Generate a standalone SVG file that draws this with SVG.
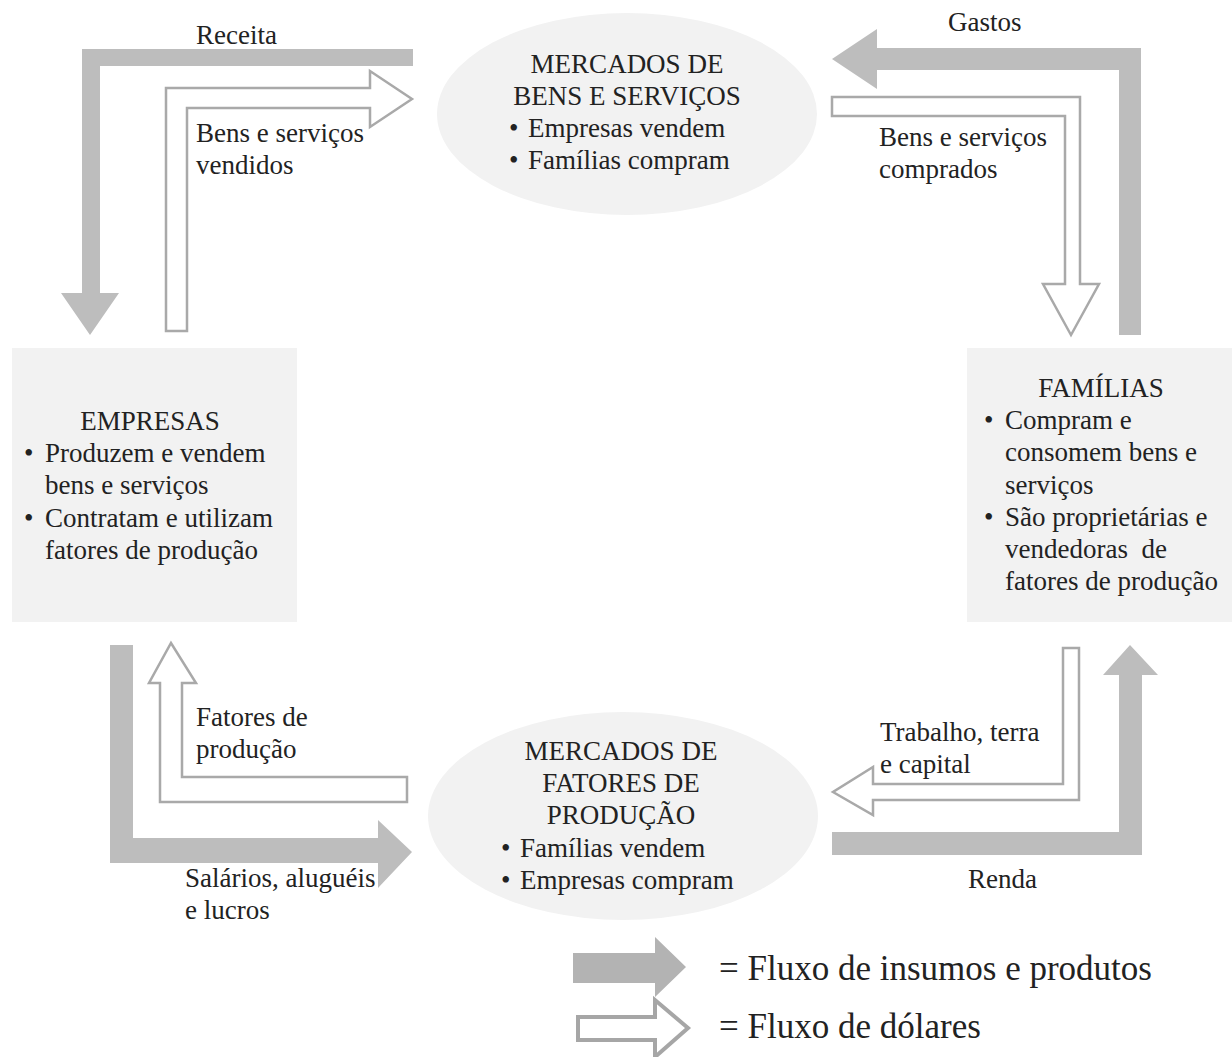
<svg xmlns="http://www.w3.org/2000/svg" width="1232" height="1057" viewBox="0 0 1232 1057">
<style>
text{font-family:"Liberation Serif","Times New Roman",serif;font-size:27px;fill:#222}
.c{text-anchor:middle}
.node{fill:#f2f2f2}
.solid{fill:#bdbdbd;stroke:none}
.hollow{fill:#fff;stroke:#a9a9a9;stroke-width:2.5;stroke-linejoin:miter}
.leg{font-size:35px}
</style>
<rect width="1232" height="1057" fill="#fff"/>

<g id="connectors">
  <g id="receita">
    <polygon class="solid" points="413,49 413,66 100,66 100,293 119,293 90,335 61,293 82,293 82,49"/>
    <text x="196" y="44">Receita</text>
  </g>
  <g id="bens-vendidos">
    <polygon class="hollow" points="166,331 166,88 370,88 370,71 412,99 370,127 370,108 187,108 187,331"/>
    <text x="196" y="142">Bens e serviços</text>
    <text x="196" y="174">vendidos</text>
  </g>
  <g id="gastos">
    <polygon class="solid" points="832,59 877,29 877,48 1141,48 1141,335 1119,335 1119,70 877,70 877,89"/>
    <text x="948" y="31">Gastos</text>
  </g>
  <g id="bens-comprados">
    <polygon class="hollow" points="832,97 1080,97 1080,284 1099,284 1071,335 1043,284 1065,284 1065,116 832,116"/>
    <text x="879" y="146">Bens e serviços</text>
    <text x="879" y="178">comprados</text>
  </g>
  <g id="fatores">
    <polygon class="hollow" points="160,802 160,683 149,683 171,643 196,683 182,683 182,777 407,777 407,802"/>
    <text x="196" y="726">Fatores de</text>
    <text x="196" y="758">produção</text>
  </g>
  <g id="salarios">
    <polygon class="solid" points="110,645 133,645 133,838 378,838 378,820 412,852 378,888 378,863 110,863"/>
    <text x="185" y="887">Salários, aluguéis</text>
    <text x="185" y="919">e lucros</text>
  </g>
  <g id="trabalho">
    <polygon class="hollow" points="1079,648 1079,800 873,800 873,815 833,792 873,767 873,784 1063,784 1063,648"/>
    <text x="880" y="741">Trabalho, terra</text>
    <text x="880" y="773">e capital</text>
  </g>
  <g id="renda">
    <polygon class="solid" points="832,832 1119,832 1119,675 1103,675 1130,645 1158,675 1142,675 1142,855 832,855"/>
    <text x="968" y="888">Renda</text>
  </g>
</g>

<g id="mercado-bens">
  <ellipse class="node" cx="627" cy="114" rx="190" ry="101"/>
  <text class="c" x="627" y="73">MERCADOS DE</text>
  <text class="c" x="627" y="105">BENS E SERVIÇOS</text>
  <text x="509" y="137">•</text><text x="528" y="137">Empresas vendem</text>
  <text x="509" y="169">•</text><text x="528" y="169">Famílias compram</text>
</g>

<g id="mercado-fatores">
  <ellipse class="node" cx="623" cy="816" rx="195" ry="104"/>
  <text class="c" x="621" y="760">MERCADOS DE</text>
  <text class="c" x="621" y="792">FATORES DE</text>
  <text class="c" x="621" y="824">PRODUÇÃO</text>
  <text x="501" y="857">•</text><text x="520" y="857">Famílias vendem</text>
  <text x="501" y="889">•</text><text x="520" y="889">Empresas compram</text>
</g>

<g id="empresas">
  <rect class="node" x="12" y="348" width="285" height="274"/>
  <text class="c" x="150" y="430">EMPRESAS</text>
  <text x="24" y="462">•</text><text x="45" y="462">Produzem e vendem</text>
  <text x="45" y="494">bens e serviços</text>
  <text x="24" y="527">•</text><text x="45" y="527">Contratam e utilizam</text>
  <text x="45" y="559">fatores de produção</text>
</g>

<g id="familias">
  <rect class="node" x="967" y="348" width="265" height="274"/>
  <text class="c" x="1101" y="397">FAMÍLIAS</text>
  <text x="984" y="429">•</text><text x="1005" y="429">Compram e</text>
  <text x="1005" y="461">consomem bens e</text>
  <text x="1005" y="494">serviços</text>
  <text x="984" y="526">•</text><text x="1005" y="526">São proprietárias e</text>
  <text x="1005" y="558" xml:space="preserve">vendedoras  de</text>
  <text x="1005" y="590">fatores de produção</text>
</g>

<g id="legend">
  <polygon class="solid" points="573,953 655,953 655,937 686,967 655,997 655,983 573,983" style="fill:#b3b3b3"/>
  <text class="leg" x="719" y="980">= Fluxo de insumos e produtos</text>
  <polygon class="hollow" points="578,1017 655,1017 655,1000 688,1028 655,1057 655,1040 578,1040" style="stroke-width:4;stroke:#a6a6a6"/>
  <text class="leg" x="719" y="1038">= Fluxo de dólares</text>
</g>
</svg>
